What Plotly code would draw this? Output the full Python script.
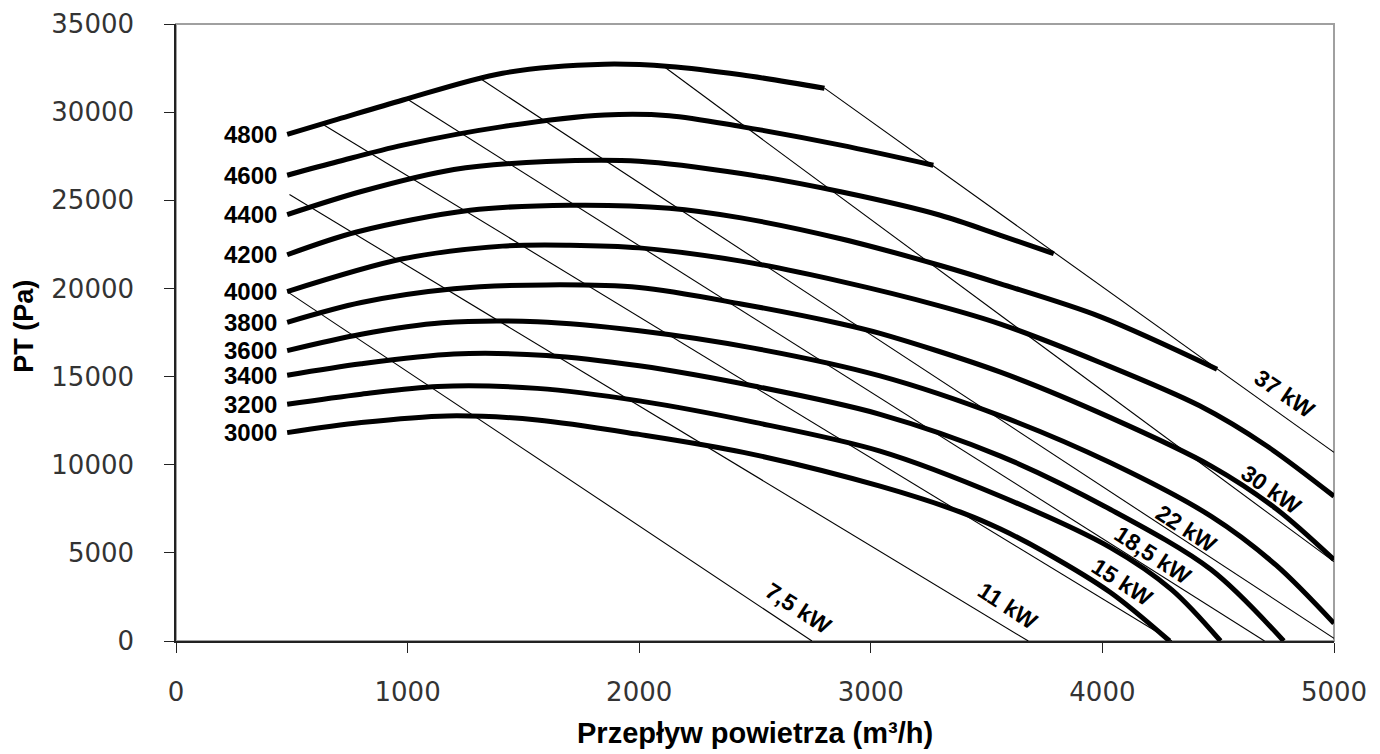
import plotly.graph_objects as go

# fan curves: flow (m3/h) vs total pressure (Pa), one per speed (rpm)
q3000 = [480, 800, 1170, 1560, 2000, 2450, 3040, 3410, 3560, 3750, 4035, 4290]
p3000 = [11820, 12390, 12770, 12540, 11720, 10700, 8780, 7200, 6350, 5050, 2750, 0]

q3200 = [480, 800, 1130, 1560, 2000, 2500, 3040, 3560, 4035, 4300, 4510]
p3200 = [13430, 14000, 14440, 14330, 13620, 12400, 10770, 8210, 5300, 2900, 0]

q3400 = [480, 800, 1200, 1600, 2000, 2500, 3040, 3560, 4035, 4470, 4783]
p3400 = [15080, 15730, 16280, 16200, 15610, 14450, 12860, 10490, 7460, 4040, 0]

q3600 = [480, 800, 1150, 1560, 2000, 2500, 3040, 3560, 4035, 4470, 4750, 5000]
p3600 = [16470, 17400, 18050, 18110, 17600, 16600, 15040, 12770, 10110, 7070, 4300, 1000]

q3800 = [480, 800, 1200, 1600, 2000, 2440, 2870, 3040, 3560, 4035, 4470, 4750, 5000]
p3800 = [18080, 19200, 19980, 20200, 20050, 19120, 18000, 17450, 15250, 12670, 9920, 7500, 4610]

q4000 = [480, 980, 1410, 1700, 2000, 2440, 2870, 3300, 3560, 3990, 4420, 4710, 5000]
p4000 = [19820, 21680, 22400, 22450, 22300, 21550, 20400, 19000, 17980, 15800, 13340, 11060, 8210]

q4200 = [480, 780, 1270, 1700, 2130, 2440, 2870, 3300, 3560, 3990, 4495]
p4200 = [21910, 23200, 24430, 24720, 24550, 24000, 22820, 21300, 20260, 18400, 15420]

q4400 = [480, 800, 1200, 1600, 2000, 2440, 2870, 3300, 3560, 3790]
p4400 = [24190, 25500, 26750, 27200, 27220, 26520, 25480, 24150, 23010, 21970]

q4600 = [480, 700, 980, 1410, 1850, 2130, 2440, 2870, 3270]
p4600 = [26420, 27200, 28130, 29180, 29840, 29800, 29180, 28130, 26990]

q4800 = [480, 700, 980, 1410, 1850, 2130, 2440, 2800]
p4800 = [28740, 29600, 30690, 32210, 32720, 32590, 32120, 31360]

speeds = ["3000", "3200", "3400", "3600", "3800", "4000", "4200", "4400", "4600", "4800"]
curves_q = [q3000, q3200, q3400, q3600, q3800, q4000, q4200, q4400, q4600, q4800]
curves_p = [p3000, p3200, p3400, p3600, p3800, p4000, p4200, p4400, p4600, p4800]

# motor power lines (start / end points)
power_names = ["7,5 kW", "11 kW", "15 kW", "18,5 kW", "22 kW", "30 kW", "37 kW"]
power_q = [[480, 2746], [490, 3680], [635, 4300], [1003, 4700], [1320, 5000], [2105, 5000], [2800, 5000]]
power_p = [[19820, 0], [25330, 0], [29300, 0], [30700, 0], [31850, 150], [32600, 4500], [31360, 10700]]

# where the power labels sit (data coords) and their tilt
power_label_x = [2686, 3592, 4085, 4218, 4365, 4732, 4788]
power_label_y = [1878, 1992, 3358, 4895, 6375, 8594, 14000]
power_label_angle = [33, 33, 33, 33, 33, 35, 34]

fig = go.Figure()

for q, p in zip(power_q, power_p):
    fig.add_trace(go.Scatter(x=q, y=p, mode="lines",
                             line=dict(color="black", width=1.1),
                             hoverinfo="skip", showlegend=False))

for name, q, p in zip(speeds, curves_q, curves_p):
    fig.add_trace(go.Scatter(x=q, y=p, mode="lines", name=name,
                             line=dict(color="black", width=5, shape="spline", smoothing=0.9),
                             showlegend=False))
    fig.add_annotation(x=q[0], y=p[0], text="<b>%s</b>" % name, showarrow=False,
                       xanchor="right", yanchor="middle", xshift=-8,
                       font=dict(family="Liberation Sans, Arial", size=24, color="black"))

for name, x, y, a in zip(power_names, power_label_x, power_label_y, power_label_angle):
    fig.add_annotation(x=x, y=y, text="<b>%s</b>" % name, showarrow=False,
                       textangle=a, xanchor="center", yanchor="middle",
                       font=dict(family="Liberation Sans, Arial", size=23, color="black"))

# axis titles
fig.add_annotation(xref="paper", yref="paper", x=-0.1313, y=0.511, text="<b>PT (Pa)</b>",
                   textangle=-90, showarrow=False, xanchor="center", yanchor="middle",
                   font=dict(family="Liberation Sans, Arial", size=27, color="black"))
fig.add_annotation(xref="paper", yref="paper", x=0.5, y=-0.178, text="<b>Przepływ powietrza (m³/h)</b>",
                   showarrow=False, xanchor="center", yanchor="bottom",
                   font=dict(family="Liberation Sans, Arial", size=29, color="black"))

# grey frame on top / right
fig.add_shape(type="rect", xref="paper", yref="paper", x0=0, y0=0, x1=1, y1=1,
              line=dict(color="#a0a0a0", width=2), layer="below")

tickfont = dict(family="DejaVu Sans", size=26, color="#333333")
fig.update_xaxes(range=[0, 5000], dtick=1000, tick0=0, showgrid=False, zeroline=False,
                 showline=True, linecolor="#222222", linewidth=2, automargin=False,
                 ticks="outside", ticklen=10, tickcolor="#222222", tickfont=tickfont,
                 ticklabelstandoff=17, tickformat="d")
fig.update_yaxes(range=[0, 35000], dtick=5000, tick0=0, showgrid=False, zeroline=False,
                 showline=True, linecolor="#222222", linewidth=1.5, automargin=False,
                 ticks="outside", ticklen=10, tickcolor="#222222", tickfont=tickfont,
                 ticklabelstandoff=25, tickformat="d")

# page body has an 8px margin, so the figure is sized/margined to compensate
fig.update_layout(width=1372, height=746, plot_bgcolor="white", paper_bgcolor="white",
                  margin=dict(l=168, r=46, t=16, b=113))

fig.write_html("out.html")
